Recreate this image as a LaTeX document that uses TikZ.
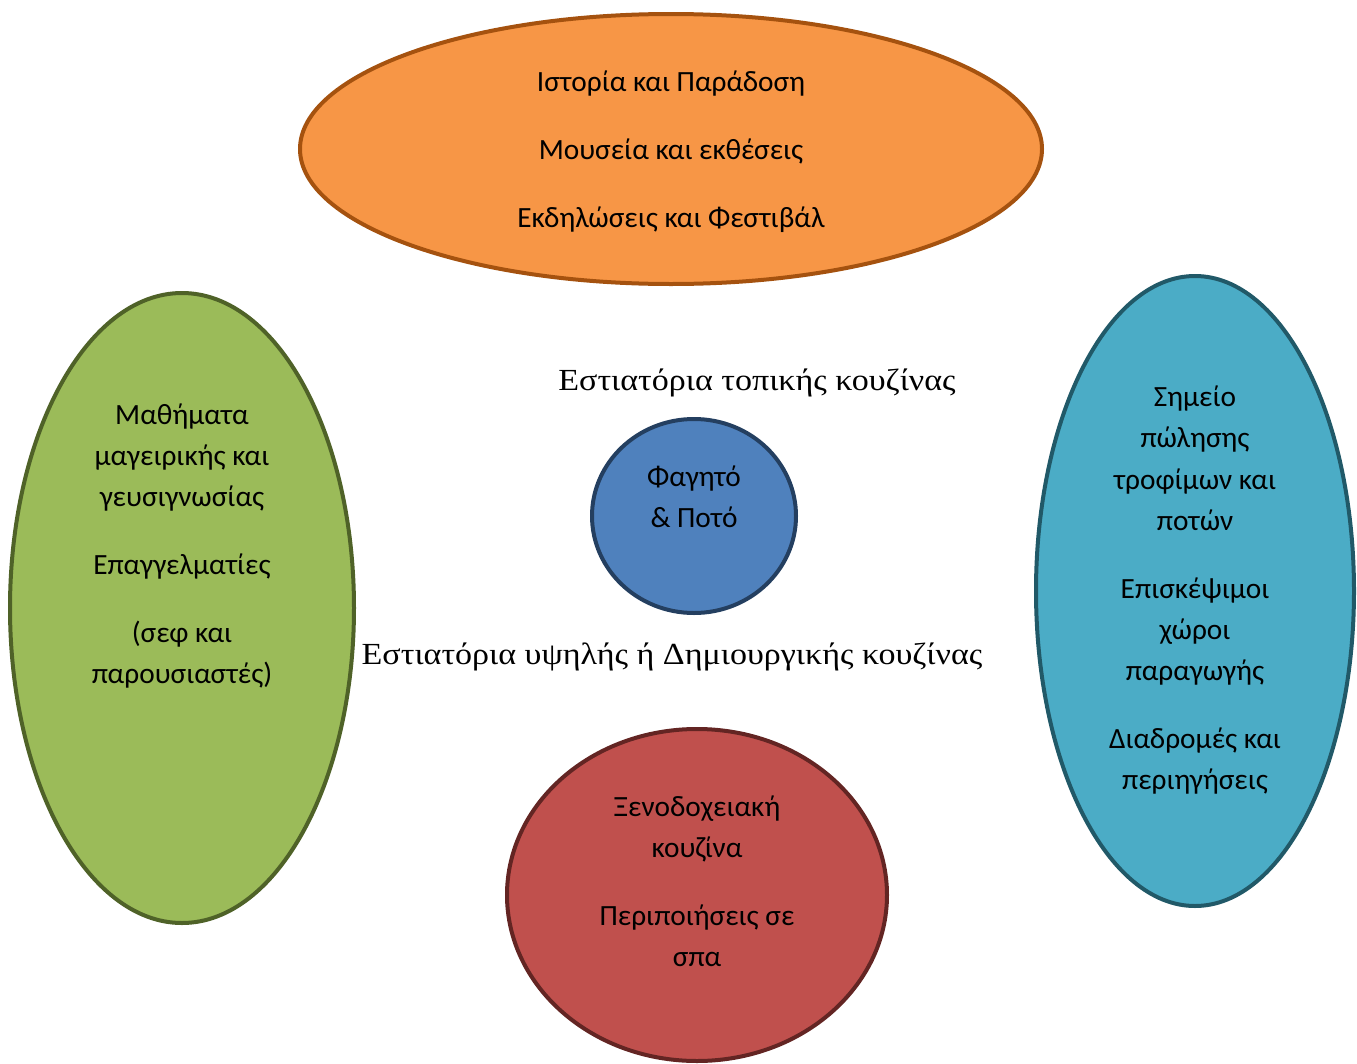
\documentclass[tikz,border=0pt]{standalone}
\usepackage{fontspec}
\setmainfont{Carlito}
\newfontfamily\serifgr[FakeStretch=1.11]{Liberation Serif}
\usetikzlibrary{shapes.geometric}
\definecolor{orfill}{HTML}{F79646}
\definecolor{ordraw}{HTML}{A5520F}
\definecolor{grfill}{HTML}{9BBB59}
\definecolor{grdraw}{HTML}{4F6228}
\definecolor{blfill}{HTML}{4F81BD}
\definecolor{bldraw}{HTML}{243F60}
\definecolor{tefill}{HTML}{4BACC6}
\definecolor{tedraw}{HTML}{215968}
\definecolor{rdfill}{HTML}{C0504D}
\definecolor{rddraw}{HTML}{632523}
\tikzset{
  blob/.style={ellipse, line width=3pt, inner sep=0pt},
  txt/.style={anchor=base, inner sep=0pt, font=\fontsize{22}{26}\selectfont},
  stxt/.style={anchor=base, inner sep=0pt, font=\serifgr\fontsize{23}{27}\selectfont},
}
\begin{document}
\begin{tikzpicture}[x=0.75pt,y=-0.75pt]
\useasboundingbox (0,0) rectangle (1357,1064);
% shapes
\node[blob, fill=orfill, draw=ordraw, minimum width=742*0.75pt, minimum height=270*0.75pt] (top) at (671,149) {};
\node[blob, fill=grfill, draw=grdraw, minimum width=344*0.75pt, minimum height=630*0.75pt] (left) at (182,608) {};
\node[blob, fill=blfill, draw=bldraw, minimum width=204*0.75pt, minimum height=194*0.75pt] (mid) at (694,516) {};
\node[blob, fill=tefill, draw=tedraw, minimum width=318*0.75pt, minimum height=630*0.75pt] (right) at (1195,591) {};
\node[blob, fill=rdfill, draw=rddraw, minimum width=380*0.75pt, minimum height=332*0.75pt] (bot) at (697,895) {};
% orange
\node[txt] (t1) at (671,91) {Ιστορία και Παράδοση};
\node[txt] (t2) at (671,159) {Μουσεία και εκθέσεις};
\node[txt] (t3) at (671,227) {Εκδηλώσεις και Φεστιβάλ};
% green
\node[txt] (l1) at (182,424) {Μαθήματα};
\node[txt] (l2) at (182,465) {μαγειρικής και};
\node[txt] (l3) at (182,506) {γευσιγνωσίας};
\node[txt] (l4) at (182,574) {Επαγγελματίες};
\node[txt] (l5) at (182,642) {(σεφ και};
\node[txt] (l6) at (182,683) {παρουσιαστές)};
% blue
\node[txt] (m1) at (694,486) {Φαγητό};
\node[txt] (m2) at (694,527) {\& Ποτό};
% teal
\node[txt] (r1) at (1195,406) {Σημείο};
\node[txt] (r2) at (1195,447) {πώλησης};
\node[txt] (r3) at (1195,489) {τροφίμων και};
\node[txt] (r4) at (1195,530) {ποτών};
\node[txt] (r5) at (1195,598) {Επισκέψιμοι};
\node[txt] (r6) at (1195,639) {χώροι};
\node[txt] (r7) at (1195,680) {παραγωγής};
\node[txt] (r8) at (1195,748) {Διαδρομές και};
\node[txt] (r9) at (1195,789) {περιηγήσεις};
% red
\node[txt] (b1) at (697,816) {Ξενοδοχειακή};
\node[txt] (b2) at (697,857) {κουζίνα};
\node[txt] (b3) at (697,925) {Περιποιήσεις σε};
\node[txt] (b4) at (697,966) {σπα};
% free text
\node[stxt] (s1) at (757,390) {Εστιατόρια τοπικής κουζίνας};
\node[stxt] (s2) at (672,664) {Εστιατόρια υψηλής ή Δημιουργικής κουζίνας};
\end{tikzpicture}
\end{document}
